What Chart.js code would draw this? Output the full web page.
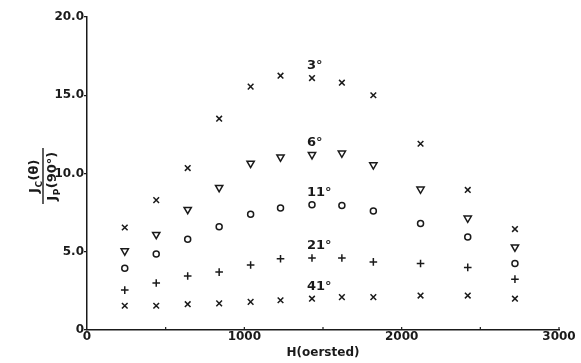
<!DOCTYPE html>
<html>
<head>
<meta charset="utf-8">
<script src="https://cdn.jsdelivr.net/npm/chart.js@4.4.1/dist/chart.umd.min.js"></script>
<style>
    html, body { margin: 0; padding: 0; background: #fff; }
    #wrap { width: 581px; height: 363px; position: relative; }
</style>
</head>
<body>
<div id="wrap"><canvas id="jcChart"></canvas></div>
<script>
// -----------------------------
// DATA
// -----------------------------
const fieldH = [240, 440, 640, 840, 1040, 1230, 1430, 1620, 1820, 2120, 2420, 2720];

const angle3 = [6.55, 8.3, 10.35, 13.5, 15.55, 16.25, 16.1, 15.8, 15.0, 11.9, 8.95, 6.45];
const angle6 = [5.05, 6.1, 7.7, 9.1, 10.65, 11.05, 11.2, 11.3, 10.55, 9.0, 7.15, 5.3];
const angle11 = [3.95, 4.85, 5.8, 6.6, 7.4, 7.8, 8.0, 7.95, 7.6, 6.8, 5.95, 4.25];
const angle21 = [2.55, 3.0, 3.45, 3.7, 4.15, 4.55, 4.6, 4.6, 4.35, 4.25, 4.0, 3.25];
const angle41 = [1.55, 1.55, 1.65, 1.7, 1.8, 1.9, 2.0, 2.1, 2.1, 2.2, 2.2, 2.0];

const seriesLabels = ["3°", "6°", "11°", "21°", "41°"];
const yTicks = ["0", "5.0", "10.0", "15.0", "20.0"];
const xTicks = ["0", "1000", "2000", "3000"];

const INK = "#1a1a1a";
const FONT = "bold 12px 'DejaVu Sans', sans-serif";

function pts(vals) {
    return vals.map((v, i) => ({ x: fieldH[i], y: v }));
}

// -----------------------------
// EXTRA DRAWING (labels, ticks, axis titles)
// -----------------------------
const extras = {
    id: "extras",
    afterDraw(chart) {
        const ctx = chart.ctx;
        const xs = chart.scales.x;
        const ys = chart.scales.y;
        const area = chart.chartArea;
        ctx.save();
        ctx.strokeStyle = INK;
        ctx.fillStyle = INK;
        ctx.lineWidth = 1.2;

        // inward ticks on the H axis every 500
        for (let h = 500; h <= 3000; h += 500) {
            const px = xs.getPixelForValue(h);
            ctx.beginPath();
            ctx.moveTo(px, area.bottom);
            ctx.lineTo(px, area.bottom - 3);
            ctx.stroke();
        }

        // angle labels above the 1430 Oe point of each series
        ctx.font = "bold 13px 'DejaVu Sans', sans-serif";
        ctx.textAlign = "left";
        ctx.textBaseline = "middle";
        chart.data.datasets.forEach((ds, i) => {
            const p = ds.data[6];
            const px = xs.getPixelForValue(p.x);
            const py = ys.getPixelForValue(p.y);
            ctx.fillText(seriesLabels[i], px - 5, py - 12);
        });

        // x title
        ctx.font = FONT;
        ctx.textAlign = "center";
        ctx.textBaseline = "middle";
        ctx.fillText("H(oersted)", (area.left + area.right) / 2, 353);

        // y title as a fraction Jc(θ) / Jp(90°)
        ctx.translate(43, 176);
        ctx.rotate(-Math.PI / 2);
        ctx.beginPath();
        ctx.moveTo(-28, 0);
        ctx.lineTo(28, 0);
        ctx.lineWidth = 1.4;
        ctx.stroke();
        drawParts(ctx, [["J", 0], ["C", 1], ["(θ)", 0]], -5);
        drawParts(ctx, [["J", 0], ["P", 1], ["(90°)", 0]], 13);
        ctx.restore();
    }
};

function drawParts(ctx, parts, baseY) {
    const big = "bold 13px 'DejaVu Sans', sans-serif";
    const small = "bold 9px 'DejaVu Sans', sans-serif";
    ctx.textAlign = "left";
    ctx.textBaseline = "alphabetic";
    let total = 0;
    parts.forEach(p => {
        ctx.font = p[1] ? small : big;
        total += ctx.measureText(p[0]).width + 0.5;
    });
    let x = -total / 2;
    parts.forEach(p => {
        ctx.font = p[1] ? small : big;
        ctx.fillText(p[0], x, p[1] ? baseY + 4 : baseY);
        x += ctx.measureText(p[0]).width + 0.5;
    });
}

// -----------------------------
// CHART
// -----------------------------
const common = {
    borderColor: INK,
    backgroundColor: "rgba(0,0,0,0)",
    borderWidth: 1.5,
    showLine: false
};

new Chart(document.getElementById("jcChart").getContext("2d"), {
    type: "scatter",
    data: {
        datasets: [
            { ...common, label: seriesLabels[0], data: pts(angle3), pointStyle: "crossRot", pointRadius: 4 },
            { ...common, label: seriesLabels[1], data: pts(angle6), pointStyle: "triangle", pointRotation: 180, pointRadius: 4.2 },
            { ...common, label: seriesLabels[2], data: pts(angle11), pointStyle: "circle", pointRadius: 3 },
            { ...common, label: seriesLabels[3], data: pts(angle21), pointStyle: "cross", pointRadius: 3.8 },
            { ...common, label: seriesLabels[4], data: pts(angle41), pointStyle: "crossRot", pointRadius: 4 }
        ]
    },
    options: {
        responsive: true,
        maintainAspectRatio: false,
        animation: false,
        layout: { padding: { left: 0, top: 17, right: 22, bottom: 0 } },
        plugins: {
            legend: { display: false },
            tooltip: { enabled: false }
        },
        scales: {
            x: {
                type: "linear",
                min: 0,
                max: 3000,
                afterFit: s => { s.height = 33; },
                afterBuildTicks: s => { s.ticks = xTicks.map(t => ({ value: +t })); },
                ticks: {
                    color: INK,
                    font: { family: "'DejaVu Sans', sans-serif", size: 12, weight: "bold" },
                    padding: 0,
                    maxRotation: 0,
                    callback: (v) => xTicks.find(t => +t === v)
                },
                grid: { display: true, drawOnChartArea: false, drawTicks: false },
                border: { color: INK, width: 1.5 }
            },
            y: {
                min: 0,
                max: 20,
                afterFit: s => { s.width = 87; },
                afterBuildTicks: s => { s.ticks = yTicks.map(t => ({ value: +t })); },
                ticks: {
                    color: INK,
                    font: { family: "'DejaVu Sans', sans-serif", size: 12, weight: "bold" },
                    padding: 0,
                    callback: (v) => yTicks.find(t => +t === v)
                },
                grid: { display: true, drawOnChartArea: false, drawTicks: true, tickLength: 3, color: INK, lineWidth: 1.2 },
                border: { color: INK, width: 1.5 }
            }
        }
    },
    plugins: [extras]
});
</script>
</body>
</html>
